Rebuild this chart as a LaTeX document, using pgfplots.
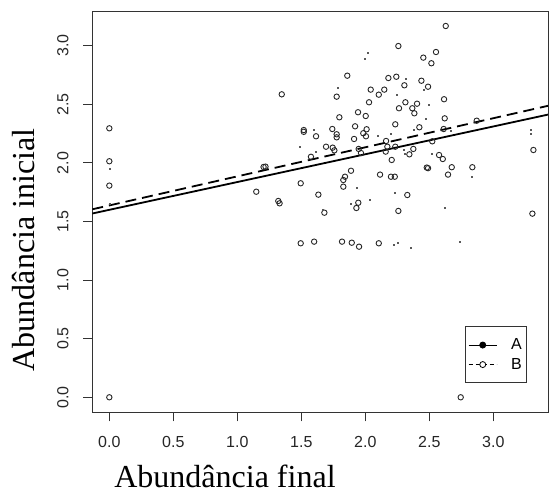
\documentclass[border=0pt]{standalone}
\usepackage{fontspec}
\setmainfont{Liberation Serif}
\newfontfamily\arialfont{Liberation Sans}
\usepackage{pgfplots}
\pgfplotsset{compat=1.18}
\pgfplotstableread{
x y
0 2.295
0 2.014
0 1.806
0 0.0
1.347 2.585
1.519 2.280
1.519 2.265
1.575 2.052
1.205 1.965
1.220 1.968
1.148 1.754
1.320 1.675
1.330 1.655
1.495 1.826
1.495 1.314
1.633 1.729
1.680 1.575
1.600 1.328
1.828 1.854
1.828 1.797
1.841 1.882
1.888 1.933
1.945 1.660
1.930 1.615
2.328 1.726
2.258 1.590
3.305 1.567
1.818 1.328
1.894 1.319
1.951 1.285
2.105 1.314
2.745 0.000
2.628 3.168
2.258 2.997
2.552 2.946
2.453 2.898
2.516 2.850
1.859 2.744
2.180 2.724
2.242 2.735
2.438 2.701
2.305 2.662
2.490 2.650
2.042 2.625
2.148 2.625
2.105 2.582
1.776 2.565
2.029 2.517
2.615 2.543
2.313 2.517
2.404 2.505
2.263 2.466
2.367 2.466
2.383 2.423
1.943 2.432
2.003 2.400
1.797 2.389
2.620 2.380
2.870 2.360
2.234 2.329
1.920 2.312
2.422 2.304
1.615 2.227
1.742 2.289
1.776 2.244
1.776 2.218
2.010 2.287
1.984 2.253
2.005 2.227
1.912 2.204
2.612 2.289
2.162 2.187
1.693 2.138
1.745 2.130
1.758 2.107
1.948 2.119
1.966 2.084
2.172 2.138
2.234 2.138
2.159 2.096
2.375 2.119
2.344 2.073
2.523 2.184
2.576 2.067
2.605 2.033
2.206 2.025
3.313 2.110
2.115 1.900
2.200 1.882
2.230 1.882
2.480 1.960
2.490 1.955
2.675 1.963
2.646 1.900
2.836 1.963
}\circles
\pgfplotstableread{
x y
0 1.954
0 1.655
2.016 2.944
1.992 2.892
1.784 2.642
2.245 2.579
2.318 2.720
2.459 2.628
2.498 2.494
1.490 2.140
2.094 2.230
2.200 2.250
1.615 2.096
2.305 2.076
2.519 2.076
3.290 2.280
3.290 2.250
2.469 2.380
2.380 2.280
2.830 1.880
1.933 1.785
2.227 1.743
2.031 1.683
1.886 1.655
2.617 1.621
1.667 1.604
2.219 1.300
2.250 1.323
2.357 1.280
2.734 1.325
1.600 2.280
2.300 2.116
2.667 2.275
}\dots
\begin{document}
\begin{tikzpicture}
\path[use as bounding box] (0pt,0pt) rectangle (550pt,494pt);
\begin{axis}[
  at={(92.3pt,81.7pt)}, anchor=south west,
  scale only axis, width=455.7pt, height=401.3pt,
  xmin=-0.133, xmax=3.427, ymin=-0.128, ymax=3.296,
  axis line style={black!80, line width=0.9pt},
  tick style={black!80, line width=0.9pt},
  tick align=outside, major tick length=9pt, tick pos=left,
  xtick={0,0.5,1,1.5,2,2.5,3}, xticklabels={0.0,0.5,1.0,1.5,2.0,2.5,3.0},
  ytick={0,0.5,1,1.5,2,2.5,3}, yticklabels={0.0,0.5,1.0,1.5,2.0,2.5,3.0},
  ticklabel style={font=\arialfont\fontsize{16}{16}\selectfont, black!85, inner sep=0pt},
  xticklabel style={anchor=north, yshift=-15pt},
  yticklabel style={rotate=90, anchor=south, yshift=14.5pt},
  legend style={at={(0.9546,0.0723)}, anchor=south east, draw=black!80, line width=0.9pt,
    font=\arialfont\fontsize{16}{16}\selectfont, inner xsep=3pt, inner ysep=10pt, row sep=3pt,
    column sep=12pt, nodes={inner sep=2pt}},
  legend cell align=left,
]
\addplot[only marks, mark=o, mark size=2.7pt, mark options={draw=black!85, line width=0.9pt}, forget plot] table {\circles};
\addplot[only marks, mark=square*, mark size=0.5pt, mark options={draw=black!65, fill=black!65}, forget plot] table {\dots};
\addplot[black, line width=1.8pt, forget plot] coordinates {(-0.133,1.568) (3.427,2.412)};
\addplot[black, line width=1.8pt, dash pattern=on 11pt off 6pt, forget plot] coordinates {(-0.133,1.604) (3.427,2.487)};
\addlegendimage{legend image code/.code={\draw[black, line width=0.9pt] (0pt,0pt) -- (28pt,0pt); \fill[black] (14pt,0pt) circle (3pt);}}
\addlegendentry{A}
\addlegendimage{legend image code/.code={\draw[black, line width=0.8pt, dash pattern=on 4pt off 3pt] (0pt,0pt) -- (28pt,0pt); \draw[black, fill=white, line width=0.8pt] (14pt,0pt) circle (3pt);}}
\addlegendentry{B}
\end{axis}
\node[anchor=base, font=\fontsize{32}{38}\selectfont] at (225pt,6.7pt) {Abundância final};
\node[anchor=base, rotate=90, font=\fontsize{32}{38}\selectfont] at (35pt,244pt) {Abundância inicial};
\end{tikzpicture}
\end{document}
